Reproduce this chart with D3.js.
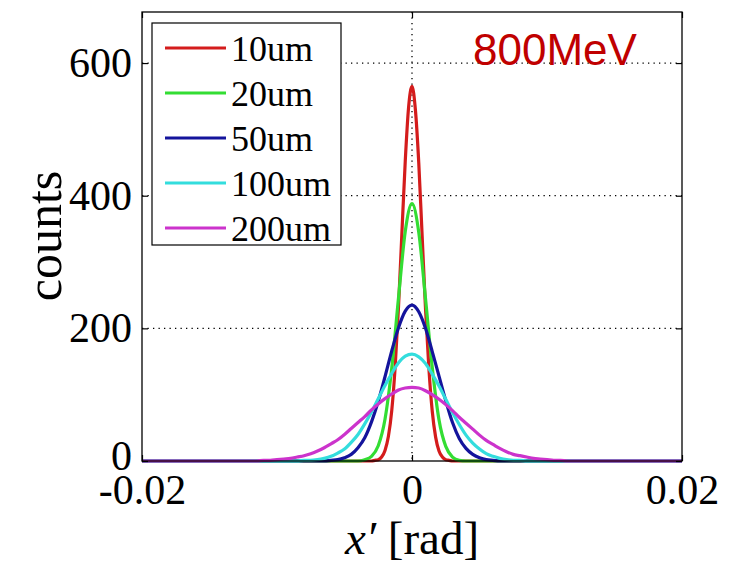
<!DOCTYPE html>
<html>
<head>
<meta charset="utf-8">
<script src="https://cdn.jsdelivr.net/npm/d3@7"></script>
<style>
  html, body { margin: 0; padding: 0; background: #fff; }
  svg { display: block; }
</style>
</head>
<body>
<svg id="chart" width="733" height="565"></svg>
<script>
// ---------------- DATA ----------------
const seriesNames = ["10um", "20um", "50um", "100um", "200um"];
const seriesColors = ["#d41c1c", "#33dd33", "#14149c", "#33dddd", "#cc33cc"];

const xTicks = [-0.02, 0, 0.02];
const xTickLabels = ["-0.02", "0", "0.02"];
const yTicks = [0, 200, 400, 600];
const yTickLabels = ["0", "200", "400", "600"];

// 10um
const x10 = [-0.02, -0.003, -0.00275, -0.0025, -0.00225, -0.002, -0.00175, -0.0015, -0.00125, -0.001, -0.00075, -0.0005, -0.00025,
  0, 0.00025, 0.0005, 0.00075, 0.001, 0.00125, 0.0015, 0.00175, 0.002, 0.00225, 0.0025, 0.00275, 0.003, 0.02];
const c10 = [0, 0, 1, 2, 6, 16, 37, 76, 141, 232, 343, 452, 534,
  565, 530, 450, 340, 230, 140, 75, 36, 15, 6, 2, 1, 0, 0];

// 20um
const x20 = [-0.02, -0.004, -0.0035, -0.003, -0.0025, -0.002, -0.0015, -0.001, -0.0005,
  0, 0.0005, 0.001, 0.0015, 0.002, 0.0025, 0.003, 0.0035, 0.004, 0.02];
const c20 = [0, 0, 2, 7, 23, 63, 140, 246, 346,
  388, 345, 245, 141, 62, 22, 6, 1, 0, 0];

// 50um
const x50 = [-0.02, -0.0065, -0.006, -0.0055, -0.005, -0.0045, -0.004, -0.0035, -0.003, -0.0025, -0.002, -0.0015, -0.001, -0.0005,
  0, 0.0005, 0.001, 0.0015, 0.002, 0.0025, 0.003, 0.0035, 0.004, 0.0045, 0.005, 0.0055, 0.006, 0.0065, 0.02];
const c50 = [0, 0, 1, 2, 5, 10, 20, 35, 59, 90, 127, 166, 201, 226,
  235, 225, 200, 165, 128, 91, 58, 34, 19, 10, 5, 2, 1, 0, 0];

// 100um
const x100 = [-0.02, -0.0085, -0.008, -0.0075, -0.007, -0.0065, -0.006, -0.0055, -0.005, -0.0045, -0.004, -0.0035, -0.003, -0.0025,
  -0.002, -0.0015, -0.001, -0.0005, 0, 0.0005, 0.001, 0.0015, 0.002, 0.0025, 0.003, 0.0035, 0.004, 0.0045, 0.005,
  0.0055, 0.006, 0.0065, 0.007, 0.0075, 0.008, 0.0085, 0.02];
const c100 = [0, 0, 1, 1, 2, 4, 7, 12, 18, 28, 40, 56, 74, 94,
  114, 132, 148, 158, 161, 157, 147, 131, 113, 93, 73, 55, 39, 27, 18,
  11, 7, 4, 2, 1, 1, 0, 0];

// 200um
const x200 = [-0.02, -0.0115, -0.011, -0.0105, -0.01, -0.0095, -0.009, -0.0085, -0.008, -0.0075, -0.007, -0.0065, -0.006,
  -0.0055, -0.005, -0.0045, -0.004, -0.0035, -0.003, -0.0025, -0.002, -0.0015, -0.001, -0.0005,
  0, 0.0005, 0.001, 0.0015, 0.002, 0.0025, 0.003, 0.0035, 0.004, 0.0045, 0.005, 0.0055, 0.006,
  0.0065, 0.007, 0.0075, 0.008, 0.0085, 0.009, 0.0095, 0.01, 0.0105, 0.011, 0.0115, 0.02];
const c200 = [0, 0, 1, 1, 2, 3, 4, 6, 8, 11, 15, 20, 26,
  32, 40, 49, 58, 67, 77, 86, 94, 101, 107, 110,
  111, 110, 106, 100, 93, 85, 76, 66, 57, 48, 39, 31, 25,
  19, 14, 10, 8, 6, 4, 3, 2, 1, 1, 0, 0];

const seriesX = [x10, x20, x50, x100, x200];
const seriesC = [c10, c20, c50, c100, c200];

// ---------------- DRAWING ----------------
const svg = d3.select("#chart");
const L = 142, R = 682, T = 12, B = 461;
const x = d3.scaleLinear().domain([-0.02, 0.02]).range([L, R]);
const y = d3.scaleLinear().domain([0, 677]).range([B, T]);

svg.append("rect").attr("width", 733).attr("height", 565).attr("fill", "#fff");

const serif = "'Liberation Serif', 'Times New Roman', serif";

// grid
const grid = svg.append("g").attr("stroke", "#000").attr("stroke-width", 1.3)
  .attr("stroke-dasharray", "1.3,4.2");
grid.selectAll("line.h").data(yTicks.filter(d => d > 0)).join("line")
  .attr("x1", L).attr("x2", R).attr("y1", d => y(d)).attr("y2", d => y(d));
grid.selectAll("line.v").data(xTicks.filter(d => d === 0)).join("line")
  .attr("x1", d => x(d)).attr("x2", d => x(d)).attr("y1", T).attr("y2", B);

// series
const line = d3.line().x(d => x(d[0])).y(d => y(d[1])).curve(d3.curveMonotoneX);
seriesNames.forEach((name, i) => {
  const pts = seriesX[i].map((v, j) => [v, seriesC[i][j]]);
  svg.append("path").datum(pts)
    .attr("d", line)
    .attr("fill", "none")
    .attr("stroke", seriesColors[i])
    .attr("stroke-width", 3.2)
    .attr("stroke-linejoin", "round");
});

// axes
const yAxis = d3.axisLeft(y).tickValues(yTicks).tickFormat((d, i) => yTickLabels[i])
  .tickSizeInner(-6).tickSizeOuter(0).tickPadding(10);
const gy = svg.append("g").attr("transform", `translate(${L},0)`).call(yAxis);
const gyR = svg.append("g").attr("transform", `translate(${R},0)`)
  .call(d3.axisRight(y).tickValues(yTicks).tickFormat("").tickSizeInner(-6).tickSizeOuter(0));

const xAxis = d3.axisBottom(x).tickValues(xTicks).tickFormat((d, i) => xTickLabels[i])
  .tickSizeInner(-6).tickSizeOuter(0).tickPadding(13);
const gx = svg.append("g").attr("transform", `translate(0,${B})`).call(xAxis);
const gxT = svg.append("g").attr("transform", `translate(0,${T})`)
  .call(d3.axisTop(x).tickValues(xTicks).tickFormat("").tickSizeInner(-6).tickSizeOuter(0));

[gy, gyR, gx, gxT].forEach(g => {
  g.select(".domain").remove();
  g.selectAll(".tick line").attr("stroke", "#000").attr("stroke-width", 1.2);
  g.selectAll(".tick text").attr("fill", "#000")
    .style("font-family", serif).style("font-size", "42px");
});
// lift the "0" count label a little so it does not collide with "-0.02"
gy.selectAll(".tick text").filter(d => d === 0).attr("dy", "0.2em");

// frame
svg.append("rect").attr("x", L).attr("y", T).attr("width", R - L).attr("height", B - T)
  .attr("fill", "none").attr("stroke", "#000").attr("stroke-width", 1.3);

// axis labels
svg.append("text")
  .attr("transform", "translate(61,236) rotate(-90)")
  .attr("text-anchor", "middle")
  .style("font-family", serif).style("font-size", "50px")
  .text("counts");

const xl = svg.append("text")
  .attr("x", x(0)).attr("y", 554)
  .attr("text-anchor", "middle")
  .style("font-family", serif).style("font-size", "47px");
xl.append("tspan").style("font-style", "italic").text("x\u2032");
xl.append("tspan").text(" [rad]");

// legend
const lg = svg.append("g");
lg.append("rect").attr("x", 152).attr("y", 23).attr("width", 189).attr("height", 222)
  .attr("fill", "#fff").attr("stroke", "#000").attr("stroke-width", 1.2);
const rowY = d3.scalePoint().domain(seriesNames).range([48, 228]);
seriesNames.forEach((name, i) => {
  lg.append("line").attr("x1", 165).attr("x2", 226)
    .attr("y1", rowY(name)).attr("y2", rowY(name))
    .attr("stroke", seriesColors[i]).attr("stroke-width", 3);
  lg.append("text").attr("x", 231).attr("y", rowY(name))
    .attr("dy", "0.35em")
    .style("font-family", serif).style("font-size", "36px")
    .text(name);
});

// annotation
svg.append("text").attr("x", 473).attr("y", 65)
  .style("font-family", "'Liberation Sans', Arial, sans-serif").style("font-size", "44px")
  .attr("fill", "#c00000")
  .text("800MeV");
</script>
</body>
</html>
